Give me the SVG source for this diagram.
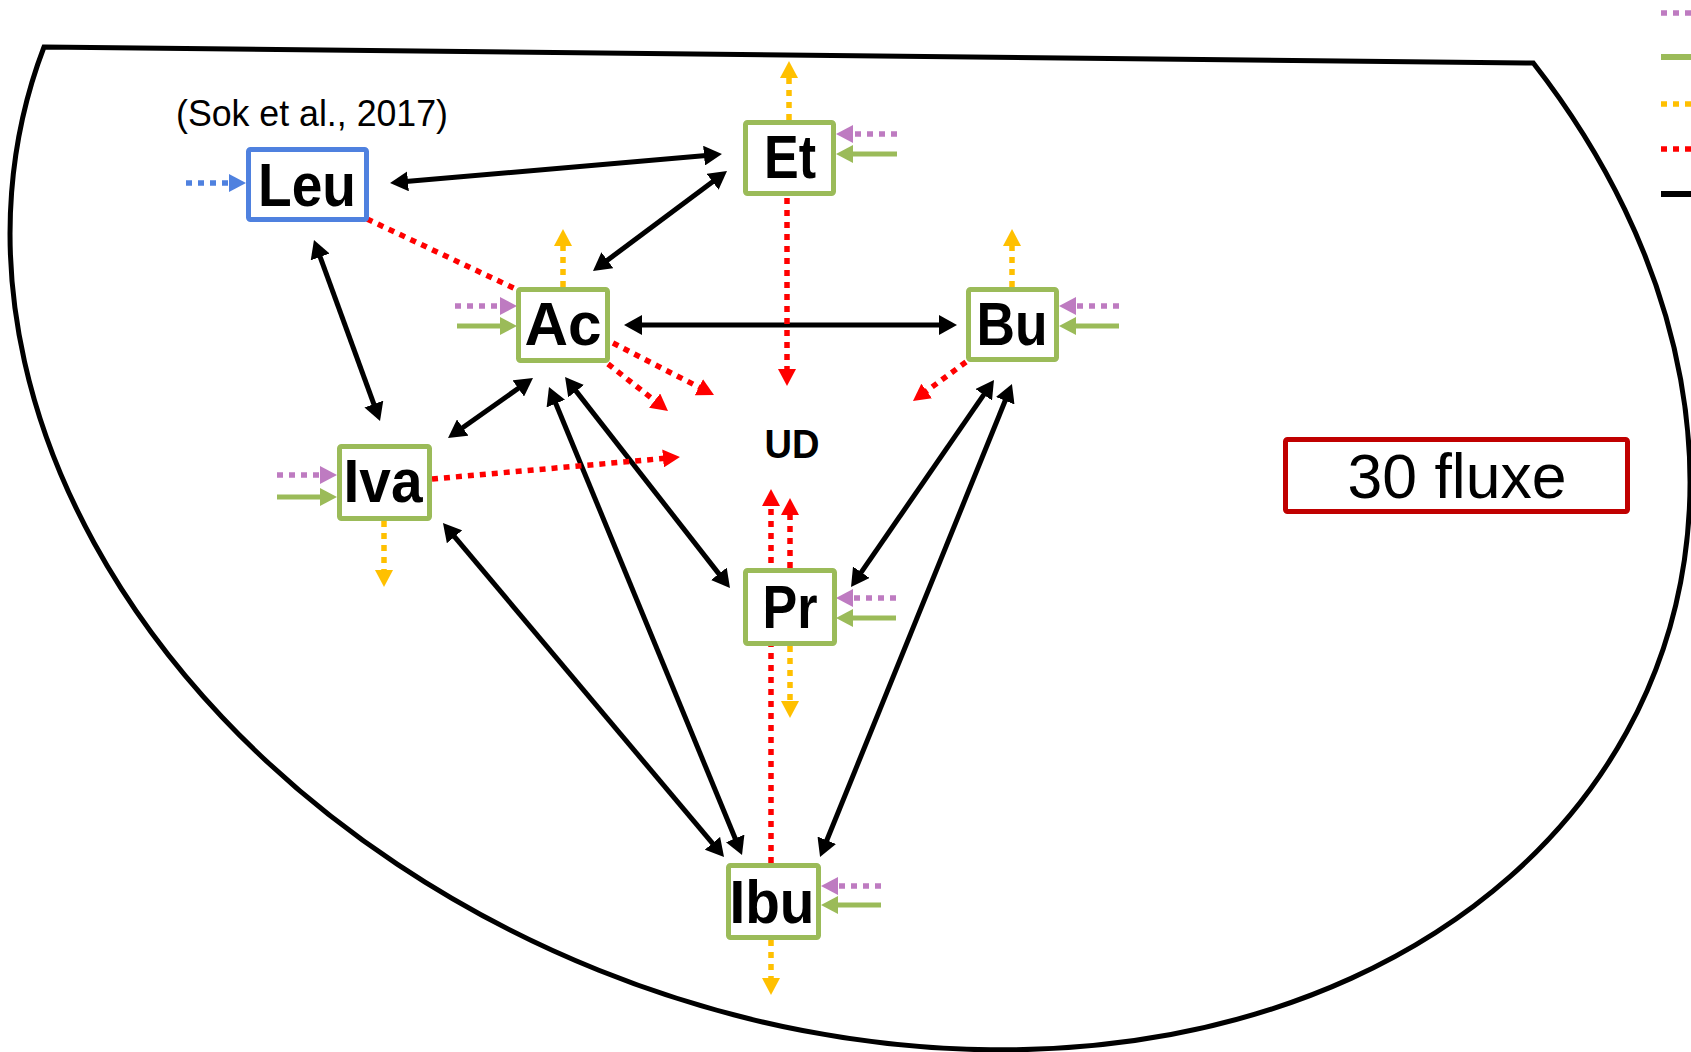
<svg xmlns="http://www.w3.org/2000/svg" width="1691" height="1052" viewBox="0 0 1691 1052">
<style>
.bg{fill:#fff}
.outline{fill:none;stroke:#000;stroke-width:5;stroke-linejoin:miter}
.box{fill:#fff;stroke:#9BBB59;stroke-width:5}
.leu{fill:#fff;stroke:#4F81DF;stroke-width:5}
.fluxbox{fill:#fff;stroke:#C00000;stroke-width:5}
.lbl{font-family:"Liberation Sans",Arial,sans-serif;font-weight:bold;font-size:62px;fill:#000;text-anchor:middle}
.ud{font-family:"Liberation Sans",Arial,sans-serif;font-weight:bold;font-size:40px;fill:#000;text-anchor:middle}
.thin{font-family:"Liberation Sans",Arial,sans-serif;font-weight:normal;fill:#000}
.blk{stroke:#000;stroke-width:5;fill:none;marker-start:url(#mb);marker-end:url(#mb)}
.dot{stroke-width:5.5;stroke-dasharray:6 6;fill:none}
.red{stroke:#FF0000}
.redh{marker-end:url(#mr)}
.org{stroke:#FFC000;marker-end:url(#mo)}
.pur{stroke:#BE7BC1;marker-end:url(#mp)}
.blu{stroke:#4F81DF;marker-end:url(#mbl)}
.grn{stroke:#9BBB59;stroke-width:5;fill:none;marker-end:url(#mg)}
</style>
<defs>
<marker id="mb" markerUnits="userSpaceOnUse" markerWidth="18" markerHeight="20" viewBox="0 0 18 20" refX="8" refY="10" orient="auto-start-reverse"><path d="M0,0 L18,10 L0,20 z" fill="#000"/></marker>
<marker id="mr" markerUnits="userSpaceOnUse" markerWidth="17" markerHeight="18" viewBox="0 0 17 18" refX="9" refY="9" orient="auto"><path d="M0,0 L17,9 L0,18 z" fill="#FF0000"/></marker>
<marker id="mo" markerUnits="userSpaceOnUse" markerWidth="17" markerHeight="18" viewBox="0 0 17 18" refX="9" refY="9" orient="auto"><path d="M0,0 L17,9 L0,18 z" fill="#FFC000"/></marker>
<marker id="mp" markerUnits="userSpaceOnUse" markerWidth="17" markerHeight="18" viewBox="0 0 17 18" refX="9" refY="9" orient="auto"><path d="M0,0 L17,9 L0,18 z" fill="#BE7BC1"/></marker>
<marker id="mg" markerUnits="userSpaceOnUse" markerWidth="17" markerHeight="18" viewBox="0 0 17 18" refX="9" refY="9" orient="auto"><path d="M0,0 L17,9 L0,18 z" fill="#9BBB59"/></marker>
<marker id="mbl" markerUnits="userSpaceOnUse" markerWidth="17" markerHeight="18" viewBox="0 0 17 18" refX="9" refY="9" orient="auto"><path d="M0,0 L17,9 L0,18 z" fill="#4F81DF"/></marker>
</defs>
<rect class="bg" x="0" y="0" width="1691" height="1052"/>

<path id="boundary" class="outline" d="M 44 47 L 1533.3 63 A 863.9 661.9 21.32 1 1 44 47 Z"/>

<g id="legend">
<line class="dot" x1="1661" y1="13" x2="1697" y2="13" stroke="#BE7BC1"/>
<line x1="1661" y1="57" x2="1697" y2="57" stroke="#9BBB59" stroke-width="6"/>
<line class="dot" x1="1661" y1="104" x2="1697" y2="104" stroke="#FFC000"/>
<line class="dot" x1="1661" y1="149" x2="1697" y2="149" stroke="#FF0000"/>
<line x1="1661" y1="194" x2="1697" y2="194" stroke="#000" stroke-width="6"/>
</g>

<g id="connectors">
<!-- black exchange arrows -->
<line class="blk" x1="400" y1="182.1" x2="712" y2="154.9"/>
<line class="blk" x1="601" y1="265" x2="719" y2="177"/>
<line class="blk" x1="634" y1="325" x2="947" y2="325"/>
<line class="blk" x1="317.4" y1="249.4" x2="376.6" y2="411.6"/>
<line class="blk" x1="456.2" y1="432.2" x2="524.8" y2="383.8"/>
<line class="blk" x1="571.2" y1="384.9" x2="723.8" y2="580.1"/>
<line class="blk" x1="552.8" y1="396.2" x2="738.2" y2="845.8"/>
<line class="blk" x1="449.4" y1="530.7" x2="717.6" y2="849.4"/>
<line class="blk" x1="988.3" y1="388.2" x2="856.7" y2="578.8"/>
<line class="blk" x1="1008.2" y1="393.3" x2="823.8" y2="847.7"/>
<!-- red dotted -->
<line class="dot red" x1="367" y1="219" x2="520" y2="291"/>
<line class="dot red redh" x1="787" y1="198" x2="787" y2="378"/>
<line class="dot red redh" x1="613" y1="343" x2="706.9" y2="391.3"/>
<line class="dot red redh" x1="608" y1="364" x2="661.7" y2="406.1"/>
<line class="dot red redh" x1="432" y1="479" x2="672" y2="457.7"/>
<line class="dot red redh" x1="966" y1="362" x2="919.4" y2="396.3"/>
<line class="dot red redh" x1="771" y1="863" x2="771" y2="497"/>
<line class="dot red redh" x1="790" y1="568" x2="790" y2="506"/>
<!-- orange dotted -->
<line class="dot org" x1="789" y1="120" x2="789" y2="69"/>
<line class="dot org" x1="563" y1="287" x2="563" y2="237"/>
<line class="dot org" x1="1012" y1="287" x2="1012" y2="237"/>
<line class="dot org" x1="384" y1="521" x2="384" y2="579"/>
<line class="dot org" x1="790" y1="646" x2="790" y2="710"/>
<line class="dot org" x1="771" y1="940" x2="771" y2="987"/>
<!-- purple dotted -->
<line class="dot pur" x1="455" y1="306" x2="509" y2="306"/>
<line class="dot pur" x1="277" y1="475" x2="329" y2="475"/>
<line class="dot pur" x1="897" y1="134" x2="844" y2="134"/>
<line class="dot pur" x1="1119" y1="306" x2="1067" y2="306"/>
<line class="dot pur" x1="896" y1="598" x2="844" y2="598"/>
<line class="dot pur" x1="881" y1="886" x2="829" y2="886"/>
<!-- green solid -->
<line class="grn" x1="457" y1="326" x2="509" y2="326"/>
<line class="grn" x1="277" y1="497" x2="329" y2="497"/>
<line class="grn" x1="897" y1="154" x2="844" y2="154"/>
<line class="grn" x1="1119" y1="326" x2="1067" y2="326"/>
<line class="grn" x1="896" y1="618" x2="844" y2="618"/>
<line class="grn" x1="881" y1="905" x2="829" y2="905"/>
<!-- blue dotted -->
<line class="dot blu" x1="186" y1="183" x2="238" y2="183"/>
</g>

<g id="node-leu">
<rect class="leu" x="248.5" y="149.5" width="118" height="70" rx="2"/>
<text class="lbl" x="307" y="206" textLength="98" lengthAdjust="spacingAndGlyphs">Leu</text>
</g>
<g id="node-et">
<rect class="box" x="745.5" y="122.5" width="88" height="71" rx="2"/>
<text class="lbl" x="790" y="178" textLength="52" lengthAdjust="spacingAndGlyphs">Et</text>
</g>
<g id="node-ac">
<rect class="box" x="518.5" y="289.5" width="89" height="71" rx="2"/>
<text class="lbl" x="563" y="345" textLength="77" lengthAdjust="spacingAndGlyphs">Ac</text>
</g>
<g id="node-bu">
<rect class="box" x="968.5" y="289.5" width="88" height="70" rx="2"/>
<text class="lbl" x="1012" y="345" textLength="71" lengthAdjust="spacingAndGlyphs">Bu</text>
</g>
<g id="node-iva">
<rect class="box" x="339.5" y="446.5" width="90" height="72" rx="2"/>
<text class="lbl" x="383" y="502" textLength="79" lengthAdjust="spacingAndGlyphs">Iva</text>
</g>
<g id="node-pr">
<rect class="box" x="745.5" y="570.5" width="89" height="73" rx="2"/>
<text class="lbl" x="790" y="628" textLength="55" lengthAdjust="spacingAndGlyphs">Pr</text>
</g>
<g id="node-ibu">
<rect class="box" x="728.5" y="865.5" width="90" height="72" rx="2"/>
<text class="lbl" x="772" y="923" textLength="85" lengthAdjust="spacingAndGlyphs">Ibu</text>
</g>
<g id="node-ud">
<text class="ud" x="792" y="458" textLength="55" lengthAdjust="spacingAndGlyphs">UD</text>
</g>
<g id="citation">
<text class="thin" x="176" y="126" font-size="36" textLength="272" lengthAdjust="spacingAndGlyphs">(Sok et al., 2017)</text>
</g>
<g id="flux-count">
<rect class="fluxbox" x="1285.5" y="439.5" width="342" height="72" rx="2"/>
<text class="thin" x="1457" y="498" font-size="63" text-anchor="middle" textLength="219" lengthAdjust="spacingAndGlyphs">30 fluxe</text>
</g>
</svg>
